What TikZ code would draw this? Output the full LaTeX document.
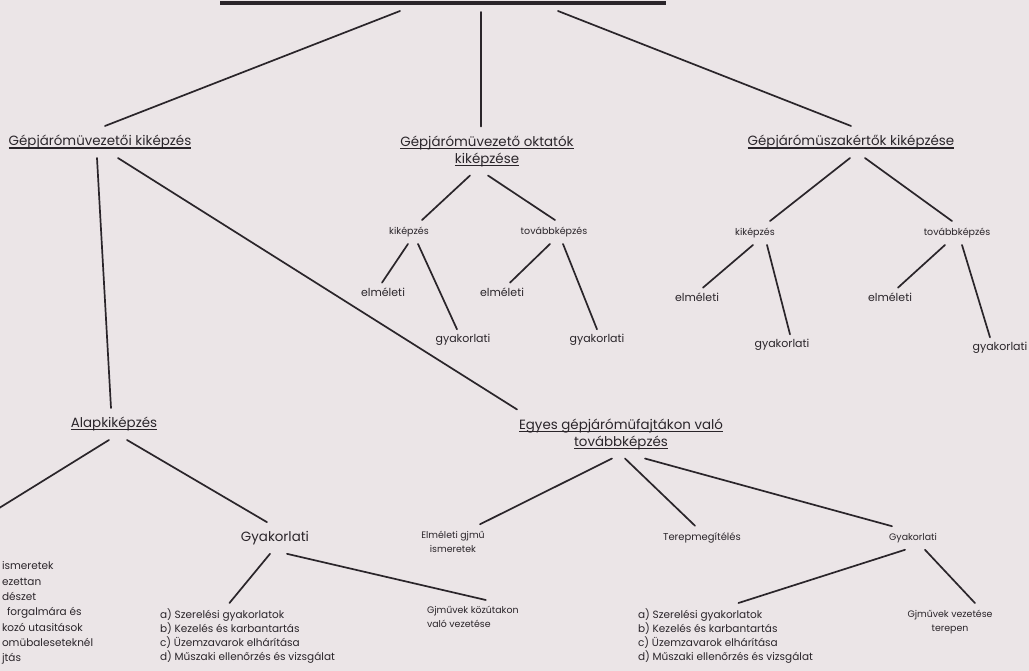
\documentclass[tikz,border=0pt]{standalone}
\usepackage{fontspec}
\setmainfont{Poppins}
\definecolor{papir}{RGB}{235,229,231}
\definecolor{tinta}{RGB}{42,37,42}
% underline with a rule of our own thickness
\newcommand\alahuz[1]{\setbox0=\hbox{#1}\rlap{\rule[-3pt]{\wd0}{1.1pt}}\box0}

\begin{document}
\begin{tikzpicture}[x=1pt,y=-1pt,
    vonal/.style={draw=tinta,line width=1.7pt,line cap=round},
    cimke/.style={text=tinta,inner sep=0pt,outer xsep=4pt,outer ysep=9pt,align=center,font=\fontsize{13.4}{17}\selectfont},
    kicsi/.style={cimke,outer ysep=7pt,font=\fontsize{9.5}{11}\selectfont},
    kozepes/.style={cimke,outer ysep=5pt,font=\fontsize{11}{13}\selectfont},
    apro/.style={cimke,outer ysep=7pt,font=\fontsize{9.4}{14}\selectfont},
    lista/.style={cimke,outer ysep=6pt,anchor=north west,align=left,font=\fontsize{10.5}{14}\selectfont}]
    \useasboundingbox (0,0) rectangle (1029,671);
    \fill[papir] (0,0) rectangle (1029,671);
    \clip (0,0) rectangle (1029,671);

    % Title bar (text cut off)
    \draw[tinta,line width=4pt] (220,3) -- (666,3);
    \coordinate (cim1) at (400,11);
    \coordinate (cim2) at (481,12);
    \coordinate (cim3) at (558,11);

    % First level
    \node[cimke] (gv) at (100,142) {\alahuz{Gépjárómüvezetői kiképzés}};
    \node[cimke] (okt) at (487,151) {\alahuz{Gépjárómüvezető oktatók}\\\alahuz{kiképzése}};
    \node[cimke] (szak) at (851,142) {\alahuz{Gépjárómüszakértők kiképzése}};

    \draw[vonal] (cim1) -- ([xshift=5]gv.north);
    \draw[vonal] (cim2) -- ([xshift=-6]okt.north);
    \draw[vonal] (cim3) -- (szak.north);

    % Instructors
    \node[kicsi] (kik1) at (409,232) {kiképzés};
    \node[kicsi] (tov1) at (554,232) {továbbképzés};
    \node[kozepes] (elm1a) at (383,292) {elméleti};
    \node[kozepes] (gyak1a) at (463,340) {gyakorlati};
    \node[kozepes] (elm1b) at (502,292) {elméleti};
    \node[kozepes] (gyak1b) at (597,340) {gyakorlati};

    \draw[vonal] ([xshift=-17]okt.south) -- ([xshift=13]kik1.north);
    \draw[vonal] ([xshift=1]okt.south) -- ([xshift=1]tov1.north);
    \draw[vonal] ([xshift=-1]kik1.south) -- ([xshift=-1]elm1a.north);
    \draw[vonal] ([xshift=9]kik1.south) -- ([xshift=-6]gyak1a.north);
    \draw[vonal] ([xshift=-4]tov1.south) -- ([xshift=8]elm1b.north);
    \draw[vonal] ([xshift=9]tov1.south) -- (gyak1b.north);

    % Experts
    \node[kicsi] (kik2) at (755,233) {kiképzés};
    \node[kicsi] (tov2) at (957,233) {továbbképzés};
    \node[kozepes] (elm2a) at (697,297) {elméleti};
    \node[kozepes] (gyak2a) at (782,345) {gyakorlati};
    \node[kozepes] (elm2b) at (890,297) {elméleti};
    \node[kozepes] (gyak2b) at (1000,348) {gyakorlati};

    \draw[vonal] ([xshift=-1]szak.south) -- ([xshift=15]kik2.north);
    \draw[vonal] ([xshift=14]szak.south) -- ([xshift=-5]tov2.north);
    \draw[vonal] ([xshift=-2]kik2.south) -- ([xshift=6]elm2a.north);
    \draw[vonal] ([xshift=12]kik2.south) -- ([xshift=8]gyak2a.north);
    \draw[vonal] ([xshift=-12]tov2.south) -- ([xshift=8]elm2b.north);
    \draw[vonal] ([xshift=5]tov2.south) -- ([xshift=-10]gyak2b.north);

    % Drivers
    \node[cimke] (alap) at (114,424) {\alahuz{Alapkiképzés}};
    \node[cimke] (egyes) at (621,434) {\alahuz{Egyes gépjárómüfajtákon való}\\\alahuz{továbbképzés}};

    \draw[vonal] ([xshift=-3]gv.south) -- ([xshift=-3]alap.north);
    \draw[vonal] ([xshift=18]gv.south) -- ([xshift=2]egyes.north west);

    % Basic training
    \coordinate (balvag) at (-4,510);
    \node[lista,font=\fontsize{10.5}{15.3}\selectfont] (bal) at (-2,556)
        {ismeretek\\ezettan\\dészet\\\hspace{5pt}forgalmára és\\kozó utasitások\\omübaleseteknél\\jtás};
    \node[cimke] (gyak1) at (275,538) {Gyakorlati};
    \node[lista] (lista1) at (156,603)
        {a) Szerelési gyakorlatok\\b) Kezelés és karbantartás\\c) Üzemzavarok elhárítása\\d) Műszaki ellenőrzés és vizsgálat};
    \node[lista,font=\fontsize{9.4}{14}\selectfont] (gjkoz) at (423,600) {Gjművek közútakon\\való vezetése};

    \draw[vonal] ([xshift=-5]alap.south) -- (balvag);
    \draw[vonal] ([xshift=13]alap.south) -- ([xshift=-8]gyak1.north);
    \draw[vonal] ([xshift=-5]gyak1.south) -- ([xshift=-18]lista1.north);
    \draw[vonal] ([xshift=12]gyak1.south) -- ([xshift=13]gjkoz.north);

    % Further training
    \node[apro] (elm2) at (453,542) {Elméleti gjmű\\ismeretek};
    \node[apro,font=\fontsize{10}{14}\selectfont] (terep) at (702,538) {Terepmegítélés};
    \node[apro] (gyak2) at (913,538) {Gyakorlati};
    \node[lista] (lista2) at (634,603)
        {a) Szerelési gyakorlatok\\b) Kezelés és karbantartás\\c) Üzemzavarok elhárítása\\d) Műszaki ellenőrzés és vizsgálat};
    \node[apro] (gjter) at (950,622) {Gjművek vezetése\\terepen};

    \draw[vonal] ([xshift=-9]egyes.south) -- ([xshift=27]elm2.north);
    \draw[vonal] ([xshift=4]egyes.south) -- ([xshift=-7]terep.north);
    \draw[vonal] ([xshift=24]egyes.south) -- ([xshift=-21]gyak2.north);
    \draw[vonal] ([xshift=-8]gyak2.south) -- ([xshift=13]lista2.north);
    \draw[vonal] ([xshift=12]gyak2.south) -- ([xshift=25]gjter.north);
\end{tikzpicture}
\end{document}
